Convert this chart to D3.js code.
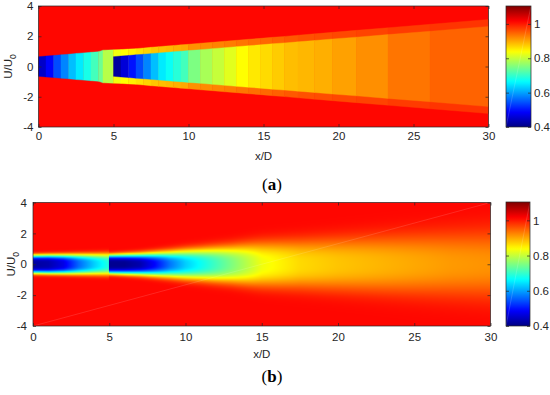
<!DOCTYPE html>
<html>
<head>
<meta charset="utf-8">
<script src="https://cdn.jsdelivr.net/npm/d3@7"></script>
<style>
  body { margin: 0; background: #fff; }
  svg { display: block; }
</style>
</head>
<body>
<svg id="chart" width="550" height="395"></svg>
<script>
// colour limits and MATLAB "jet" colour map
const cLim = [0.4, 1.104];
const jetPos = [0, 0.125, 0.375, 0.625, 0.875, 1];
const jetColors = ["#000083", "#0000ff", "#00ffff", "#ffff00", "#ff0000", "#800000"];
const ambient = 1.012;

const xTicks = [0, 5, 10, 15, 20, 25, 30];
const yTicks = [-4, -2, 0, 2, 4];
const cTicks = [0.4, 0.6, 0.8, 1];

// (a) top-hat wakes: column edges (x/D), half widths at each edge, value per column
const topEdges = [0, 0.5, 1, 1.5, 2, 2.5, 3, 3.5, 4, 4.3, 5, 5.5, 6, 6.5, 7, 7.5, 8, 8.5, 9, 9.5,
  10, 10.8, 11.6, 12.4, 13.2, 14, 14.8, 15.6, 16.4, 17.3, 18.4, 19.6, 21.2, 23.3, 26.1, 30];
const outerHalf = [0.65, 0.69, 0.73, 0.77, 0.81, 0.86, 0.90, 0.94, 0.98, 1.08, 1.10, 1.12, 1.15, 1.18, 1.22, 1.27, 1.31, 1.35, 1.39, 1.43,
  1.47, 1.54, 1.60, 1.67, 1.73, 1.80, 1.86, 1.93, 1.99, 2.07, 2.16, 2.26, 2.39, 2.56, 2.79, 3.11];
const coreHalf = [0, 0, 0, 0, 0, 0, 0, 0, 0, 0, 0.65, 0.69, 0.73, 0.77, 0.81, 0.85, 0.89, 0.93, 0.97, 1.01,
  1.05, 1.11, 1.18, 1.24, 1.31, 1.37, 1.43, 1.50, 1.56, 1.63, 1.72, 1.82, 1.94, 2.11, 2.33, 2.65];
const outerVal = [0.45, 0.49, 0.54, 0.58, 0.62, 0.65, 0.68, 0.71, 0.74, 0.79,
  0.83, 0.84, 0.85, 0.86, 0.87, 0.88, 0.885, 0.89, 0.895, 0.90,
  0.915, 0.92, 0.925, 0.93, 0.935, 0.94, 0.945, 0.95, 0.955, 0.96, 0.963, 0.966, 0.97, 0.975, 0.98];
const coreVal = [null, null, null, null, null, null, null, null, null, null,
  0.42, 0.46, 0.50, 0.54, 0.58, 0.62, 0.65, 0.67, 0.69, 0.71,
  0.75, 0.78, 0.80, 0.82, 0.84, 0.855, 0.865, 0.875, 0.885, 0.89, 0.895, 0.905, 0.917, 0.935, 0.948];

// (b) smooth wakes: centreline value, width and profile exponent at stations
const aX = [0, 1, 2, 3, 4, 5];
const aU = [0.42, 0.43, 0.47, 0.56, 0.63, 0.69];
const aB = [0.58, 0.60, 0.61, 0.63, 0.65, 0.68];
const aN = [4, 4, 3.8, 3.6, 3.5, 3.5];

const bX = [5, 6, 7, 8, 9, 10, 11, 12, 13, 14, 15, 17.5, 20, 22.5, 25, 27.5, 30];
const bU = [0.41, 0.41, 0.43, 0.49, 0.57, 0.63, 0.67, 0.71, 0.75, 0.79, 0.83, 0.865, 0.88, 0.89, 0.90, 0.91, 0.915];
const bB = [0.605, 0.63, 0.66, 0.72, 0.80, 0.90, 0.98, 1.07, 1.16, 1.28, 1.40, 1.53, 1.66, 1.78, 1.90, 2.02, 2.12];
const bN = [4, 3.6, 3.3, 3.1, 3.0, 3.0, 3.0, 3.0, 3.0, 3.0, 3.0, 2.9, 2.8, 2.7, 2.6, 2.5, 2.4];

const FONT = "'Liberation Sans', Arial, sans-serif";
const ink = "#262626";

const color = d3.scaleLinear()
  .domain(jetPos.map(p => cLim[0] + p * (cLim[1] - cLim[0])))
  .range(jetColors)
  .clamp(true);

const svg = d3.select("#chart");
const defs = svg.append("defs");

function scales(box) {
  const x = d3.scaleLinear().domain([0, 30]).range([box.left, box.right]);
  const y = d3.scaleLinear().domain([-4, 4]).range([box.bottom, box.top]);
  return { x, y };
}

function axes(x, y, box, padX, padY) {
  const g = svg.append("g");
  const put = (gen, tx, ty) => g.append("g")
    .attr("transform", `translate(${tx},${ty})`)
    .call(gen)
    .attr("font-family", FONT).attr("font-size", 11.5)
    .call(s => s.select(".domain").remove());
  put(d3.axisBottom(x).tickValues(xTicks).tickSize(-3).tickPadding(padX).tickFormat(d => String(d)), 0, box.bottom);
  put(d3.axisTop(x).tickValues(xTicks).tickSize(-3).tickFormat(""), 0, box.top);
  put(d3.axisLeft(y).tickValues(yTicks).tickSize(-3).tickPadding(padY).tickFormat(d => String(d)), box.left, 0);
  put(d3.axisRight(y).tickValues(yTicks).tickSize(-3).tickFormat(""), box.right, 0);
  g.selectAll(".tick line").attr("stroke", ink).attr("stroke-width", 0.7);
  g.selectAll(".tick text").attr("fill", ink);
  g.append("rect")
    .attr("x", box.left).attr("y", box.top)
    .attr("width", box.right - box.left).attr("height", box.bottom - box.top)
    .attr("fill", "none").attr("stroke", ink).attr("stroke-width", 0.7);
}

function titles(box, yTitleX, xTitleY, tag, tagY) {
  const cx = (box.left + box.right) / 2;
  svg.append("text").attr("x", cx).attr("y", xTitleY)
    .attr("text-anchor", "middle").attr("font-family", FONT).attr("font-size", 11.5)
    .attr("fill", ink).text("x/D");
  const yt = svg.append("text")
    .attr("transform", `translate(${yTitleX},${(box.top + box.bottom) / 2}) rotate(-90)`)
    .attr("text-anchor", "middle").attr("font-family", FONT).attr("font-size", 11.5)
    .attr("fill", ink);
  yt.append("tspan").text("U/U");
  yt.append("tspan").attr("font-size", 8.5).attr("dy", 3.5).text("0");
  const t = svg.append("text").attr("x", 272).attr("y", tagY)
    .attr("text-anchor", "middle").attr("font-family", "'Liberation Serif', 'DejaVu Serif', serif")
    .attr("font-size", 17).attr("fill", "#000");
  t.append("tspan").text("(");
  t.append("tspan").attr("font-weight", "bold").text(tag);
  t.append("tspan").text(")");
}

function colorbar(box, id) {
  const cy = d3.scaleLinear().domain(cLim).range([box.bottom, box.top]);
  const grad = defs.append("linearGradient").attr("id", id)
    .attr("x1", 0).attr("y1", 1).attr("x2", 0).attr("y2", 0);
  d3.range(0, 51).forEach(i => {
    const t = i / 50;
    grad.append("stop").attr("offset", t).attr("stop-color", color(cLim[0] + t * (cLim[1] - cLim[0])));
  });
  svg.append("rect")
    .attr("x", box.left).attr("y", box.top)
    .attr("width", box.right - box.left).attr("height", box.bottom - box.top)
    .attr("fill", `url(#${id})`);
  svg.append("line")
    .attr("x1", box.left).attr("y1", box.bottom).attr("x2", box.right).attr("y2", box.top)
    .attr("stroke", "#fff").attr("stroke-opacity", 0.25).attr("stroke-width", 0.6);
  const g = svg.append("g");
  g.append("g").attr("transform", `translate(${box.right},0)`)
    .call(d3.axisRight(cy).tickValues(cTicks).tickSize(-3).tickPadding(3).tickFormat(d => String(d)))
    .attr("font-family", FONT).attr("font-size", 11.5)
    .call(s => s.select(".domain").remove());
  g.append("g").attr("transform", `translate(${box.left},0)`)
    .call(d3.axisLeft(cy).tickValues(cTicks).tickSize(-3).tickFormat(""))
    .call(s => s.select(".domain").remove());
  g.selectAll(".tick line").attr("stroke", ink).attr("stroke-width", 0.7);
  g.selectAll(".tick text").attr("fill", ink);
  g.append("rect")
    .attr("x", box.left).attr("y", box.top)
    .attr("width", box.right - box.left).attr("height", box.bottom - box.top)
    .attr("fill", "none").attr("stroke", ink).attr("stroke-width", 0.7);
}

// ---------- panel (a) ----------
const boxA = { left: 38.5, right: 488.5, top: 6, bottom: 127 };
const sa = scales(boxA);
const gA = svg.append("g");
gA.append("rect")
  .attr("x", boxA.left).attr("y", boxA.top)
  .attr("width", boxA.right - boxA.left).attr("height", boxA.bottom - boxA.top)
  .attr("fill", color(ambient));

function band(x0, x1, h0, h1) {
  return [[sa.x(x0), sa.y(h0)], [sa.x(x1), sa.y(h1)], [sa.x(x1), sa.y(-h1)], [sa.x(x0), sa.y(-h0)]]
    .map(p => p.join(",")).join(" ");
}
outerVal.forEach((v, i) => {
  gA.append("polygon")
    .attr("points", band(topEdges[i], topEdges[i + 1], outerHalf[i], outerHalf[i + 1]))
    .attr("fill", color(v)).attr("stroke", color(v)).attr("stroke-width", 0.4);
});
coreVal.forEach((v, i) => {
  if (v == null) return;
  gA.append("polygon")
    .attr("points", band(topEdges[i], topEdges[i + 1], coreHalf[i], coreHalf[i + 1]))
    .attr("fill", color(v)).attr("stroke", color(v)).attr("stroke-width", 0.4);
});
axes(sa.x, sa.y, boxA, 5, 5);
titles(boxA, 12, 160, "a", 190);
colorbar({ left: 506, right: 531, top: 6, bottom: 127 }, "cbA");

// ---------- panel (b) ----------
const boxB = { left: 33, right: 490.5, top: 202.5, bottom: 326 };
const sb = scales(boxB);

const near = {
  u: d3.scaleLinear().domain(aX).range(aU).clamp(true),
  b: d3.scaleLinear().domain(aX).range(aB).clamp(true),
  n: d3.scaleLinear().domain(aX).range(aN).clamp(true)
};
const far = {
  u: d3.scaleLinear().domain(bX).range(bU).clamp(true),
  b: d3.scaleLinear().domain(bX).range(bB).clamp(true),
  n: d3.scaleLinear().domain(bX).range(bN).clamp(true)
};

// paint the smooth field pixel by pixel, then place it in the svg
const W = Math.round(boxB.right - boxB.left), H = Math.round(boxB.bottom - boxB.top);
const canvas = document.createElement("canvas");
canvas.width = W; canvas.height = H;
const ctx = canvas.getContext("2d");
const img = ctx.createImageData(W, H);
for (let px = 0; px < W; px++) {
  const xv = sb.x.invert(boxB.left + (px + 0.5) * (boxB.right - boxB.left) / W);
  const p = xv < 5 ? near : far;
  const uc = p.u(xv), b = p.b(xv), n = p.n(xv);
  for (let py = 0; py < H; py++) {
    const yv = sb.y.invert(boxB.top + (py + 0.5) * (boxB.bottom - boxB.top) / H);
    const u = ambient - (ambient - uc) * Math.exp(-Math.pow(Math.abs(yv) / b, n));
    const c = d3.rgb(color(u));
    const k = (py * W + px) * 4;
    img.data[k] = c.r; img.data[k + 1] = c.g; img.data[k + 2] = c.b; img.data[k + 3] = 255;
  }
}
ctx.putImageData(img, 0, 0);
const gB = svg.append("g");
gB.append("image")
  .attr("x", boxB.left).attr("y", boxB.top)
  .attr("width", boxB.right - boxB.left).attr("height", boxB.bottom - boxB.top)
  .attr("preserveAspectRatio", "none")
  .attr("href", canvas.toDataURL());
gB.append("line")
  .attr("x1", sb.x(0)).attr("y1", sb.y(-4)).attr("x2", sb.x(30)).attr("y2", sb.y(4))
  .attr("stroke", "#fff").attr("stroke-opacity", 0.22).attr("stroke-width", 0.6);

axes(sb.x, sb.y, boxB, 7, 6);
titles(boxB, 15, 358, "b", 382);
colorbar({ left: 506, right: 530, top: 202, bottom: 326 }, "cbB");
</script>
</body>
</html>
